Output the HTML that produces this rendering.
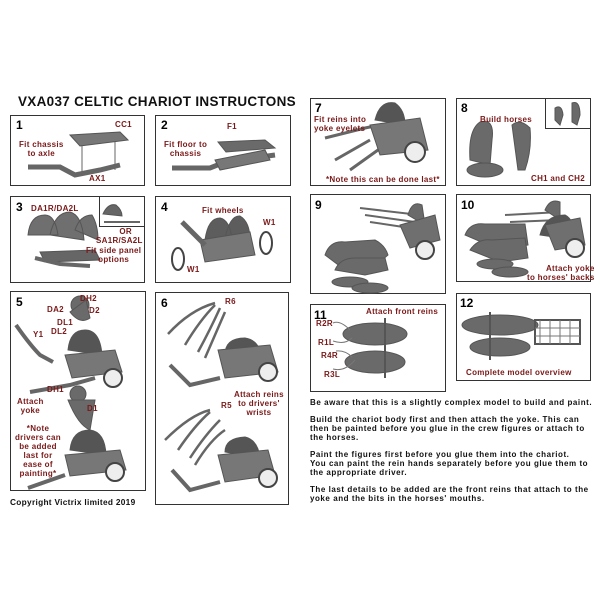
<!DOCTYPE html>
<html><head><meta charset="utf-8"><style>
body{margin:0;width:600px;height:600px;background:#fff;position:relative;overflow:hidden;font-family:"Liberation Sans","DejaVu Sans",sans-serif;font-weight:bold}
.b{position:absolute;border:1.5px solid #333;box-sizing:border-box;background:#fff}
.n{position:absolute;font-size:12px;color:#000;font-weight:bold}
.l{position:absolute;font-size:8px;color:#7a1818;font-weight:bold;text-align:center;line-height:9px;white-space:nowrap;letter-spacing:0.3px}
.t{position:absolute;left:310px;font-size:8px;letter-spacing:0.55px;color:#111;white-space:nowrap;line-height:9px}
svg{position:absolute;left:0;top:0}
</style></head><body>
<div style="position:absolute;left:18px;top:94px;font-size:13.5px;font-weight:bold;color:#111;letter-spacing:0.3px">VXA037 CELTIC CHARIOT INSTRUCTONS</div>

<div class="b" style="left:10px;top:115px;width:135px;height:71px"></div>
<div class="b" style="left:155px;top:115px;width:136px;height:71px"></div>
<div class="b" style="left:10px;top:196px;width:135px;height:87px"></div>
<div class="b" style="left:99px;top:196px;width:46px;height:31px"></div>
<div class="b" style="left:155px;top:196px;width:136px;height:87px"></div>
<div class="b" style="left:10px;top:291px;width:136px;height:200px"></div>
<div class="b" style="left:155px;top:292px;width:134px;height:213px"></div>
<div class="b" style="left:310px;top:98px;width:136px;height:88px"></div>
<div class="b" style="left:456px;top:98px;width:135px;height:88px"></div>
<div class="b" style="left:545px;top:98px;width:46px;height:31px"></div>
<div class="b" style="left:310px;top:194px;width:136px;height:100px"></div>
<div class="b" style="left:456px;top:194px;width:135px;height:88px"></div>
<div class="b" style="left:310px;top:304px;width:136px;height:88px"></div>
<div class="b" style="left:456px;top:293px;width:135px;height:88px"></div>

<svg width="600" height="600" fill="#6a6a6a" stroke="#555">
<!-- 1 -->
<polygon points="70,135 120,132 128,140 80,146" fill="#777"/>
<path d="M28,167 L60,167 L75,175 L100,170 L120,165" stroke="#666" stroke-width="5" fill="none"/>
<line x1="82" y1="146" x2="82" y2="172" stroke="#666"/><line x1="115" y1="142" x2="115" y2="170" stroke="#666"/>
<!-- 2 -->
<polygon points="218,142 265,140 275,148 226,152" fill="#6a6a6a"/>
<path d="M172,168 L210,168 L225,162 L275,155" stroke="#666" stroke-width="5" fill="none"/>
<polygon points="215,160 265,150 270,160 220,170" fill="#777"/>
<!-- 3 -->
<path d="M28,235 Q30,215 45,215 Q55,215 58,235 Z M50,235 Q55,212 70,212 Q82,215 84,240 Z M75,230 Q80,215 92,215 Q98,225 98,240 Z" fill="#6f6f6f"/>
<polygon points="40,252 95,250 100,260 45,262" fill="#666"/>
<path d="M35,258 L60,264 L90,266" stroke="#666" stroke-width="4" fill="none"/>
<path d="M103,214 Q108,203 116,205 Q122,210 122,216 Z" fill="#666"/><line x1="104" y1="222" x2="140" y2="222" stroke="#666" stroke-width="2"/>
<!-- 4 -->
<path d="M205,240 Q208,218 220,218 Q230,220 232,240 Z M225,238 Q230,215 240,216 Q250,222 250,240 Z" fill="#5d5d5d"/>
<polygon points="200,240 250,232 255,255 205,262" fill="#777"/>
<path d="M182,222 L205,245" stroke="#666" stroke-width="5"/>
<ellipse cx="178" cy="259" rx="6" ry="11" fill="none" stroke="#444" stroke-width="2"/>
<ellipse cx="266" cy="243" rx="6" ry="11" fill="none" stroke="#444" stroke-width="2"/>
<!-- 5 -->
<path d="M16,325 Q30,345 40,355 L53,362" stroke="#666" stroke-width="4" fill="none"/>
<path d="M68,350 Q70,330 85,330 Q100,330 102,355 Z" fill="#555"/>
<polygon points="65,355 115,350 122,372 72,378" fill="#777"/>
<path d="M30,392 L70,385 L95,378" stroke="#666" stroke-width="4" fill="none"/>
<circle cx="113" cy="378" r="9" fill="#eee" stroke="#444" stroke-width="2"/>
<circle cx="80" cy="305" r="9"/><path d="M70,312 Q80,325 90,318 L86,300 Z"/>
<circle cx="78" cy="394" r="8"/><path d="M68,400 Q78,425 90,430 L95,400 Z"/>
<path d="M70,450 Q72,430 90,430 Q105,432 106,455 Z" fill="#555"/>
<polygon points="65,455 120,450 126,470 70,476" fill="#777"/>
<path d="M28,488 L65,475" stroke="#666" stroke-width="4"/>
<circle cx="115" cy="472" r="9" fill="#eee" stroke="#444" stroke-width="2"/>
<!-- 6 -->
<path d="M168,334 Q190,310 215,303 M185,345 Q200,320 215,305 M198,352 Q210,330 220,308 M205,358 Q215,335 225,312" stroke="#666" stroke-width="2.5" fill="none"/>
<path d="M225,355 Q225,338 245,338 Q260,340 262,360 Z" fill="#555"/>
<polygon points="218,350 270,345 278,372 225,378" fill="#777"/>
<path d="M170,365 L190,385 L220,378" stroke="#666" stroke-width="4" fill="none"/>
<circle cx="268" cy="372" r="9" fill="#eee" stroke="#444" stroke-width="2"/>
<path d="M165,440 Q190,415 210,410 M178,450 Q195,425 210,412 M190,458 Q205,435 220,420 M195,465 Q210,440 225,430" stroke="#666" stroke-width="2.5" fill="none"/>
<path d="M225,452 Q225,438 245,437 Q258,440 260,458 Z" fill="#555"/>
<polygon points="218,455 268,450 275,475 225,482" fill="#777"/>
<path d="M172,470 L190,490 L220,482" stroke="#666" stroke-width="4" fill="none"/>
<circle cx="268" cy="478" r="9" fill="#eee" stroke="#444" stroke-width="2"/>
<!-- 7 -->
<path d="M325,138 L365,128 L380,125" stroke="#666" stroke-width="3" fill="none"/>
<path d="M335,160 L370,140 M350,170 L385,145" stroke="#666" stroke-width="3"/>
<path d="M375,120 Q380,100 395,103 Q405,110 405,125 Z" fill="#555"/>
<polygon points="370,125 420,118 428,150 380,155" fill="#777"/>
<circle cx="415" cy="152" r="10" fill="#eee" stroke="#444" stroke-width="2"/>
<!-- 8 -->
<path d="M470,160 Q468,130 480,122 Q495,118 492,140 L490,165 Z"/>
<ellipse cx="485" cy="170" rx="18" ry="7"/>
<path d="M512,125 Q520,118 530,128 Q532,150 525,170 L518,170 Z"/>
<path d="M555,108 Q562,104 563,115 L560,125 L555,120 Z M572,103 Q580,100 580,115 L577,125 L572,122 Z"/>
<!-- 9 -->
<path d="M360,208 L420,215 M365,215 L415,222 M370,222 L410,228" stroke="#666" stroke-width="2"/>
<path d="M408,215 Q412,200 422,205 L425,225 Z"/>
<polygon points="400,225 435,215 440,240 410,248" fill="#6f6f6f"/>
<circle cx="425" cy="250" r="9" fill="#eee" stroke="#444" stroke-width="2"/>
<path d="M325,255 Q330,240 345,242 L375,240 Q385,245 388,255 L380,262 L360,262 L345,270 Z"/>
<path d="M335,270 Q340,258 355,258 L385,258 L388,270 L365,275 Z"/>
<ellipse cx="350" cy="282" rx="18" ry="5"/><ellipse cx="370" cy="288" rx="18" ry="5"/>
<!-- 10 -->
<path d="M505,215 L560,212 M510,222 L560,220" stroke="#666" stroke-width="2"/>
<path d="M545,210 Q550,198 560,202 L560,220 Z"/>
<path d="M540,235 Q545,215 565,215 Q575,220 575,240 Z" fill="#555"/>
<polygon points="545,225 580,218 585,245 555,250" fill="#6f6f6f"/>
<circle cx="575" cy="248" r="9" fill="#eee" stroke="#444" stroke-width="2"/>
<path d="M465,235 Q470,222 485,224 L525,224 L528,245 L500,250 Z"/>
<path d="M470,250 Q478,238 492,240 L525,238 L528,258 L500,262 Z"/>
<ellipse cx="495" cy="264" rx="18" ry="5"/><ellipse cx="510" cy="272" rx="18" ry="5"/>
<!-- 11 -->
<ellipse cx="375" cy="334" rx="32" ry="11"/>
<ellipse cx="375" cy="362" rx="30" ry="11"/>
<line x1="385" y1="318" x2="385" y2="378" stroke="#555" stroke-width="2"/>
<path d="M333,323 Q340,320 350,330 M333,341 Q345,345 352,338 M336,351 Q345,350 352,357 M333,369 Q345,372 355,360" stroke="#777" fill="none"/>
<!-- 12 -->
<ellipse cx="500" cy="325" rx="38" ry="10"/>
<ellipse cx="500" cy="347" rx="30" ry="9"/>
<line x1="490" y1="312" x2="490" y2="360" stroke="#555" stroke-width="2"/>
<rect x="535" y="320" width="45" height="24" fill="none" stroke="#555" stroke-width="2"/>
<path d="M540,320 V344 M550,320 V344 M560,320 V344 M570,320 V344 M535,328 H580 M535,336 H580" stroke="#777"/>
</svg>

<div class="n" style="left:16px;top:118px">1</div>
<div class="n" style="left:161px;top:118px">2</div>
<div class="n" style="left:16px;top:200px">3</div>
<div class="n" style="left:161px;top:200px">4</div>
<div class="n" style="left:16px;top:295px">5</div>
<div class="n" style="left:161px;top:296px">6</div>
<div class="n" style="left:315px;top:101px">7</div>
<div class="n" style="left:461px;top:101px">8</div>
<div class="n" style="left:315px;top:198px">9</div>
<div class="n" style="left:461px;top:198px">10</div>
<div class="n" style="left:314px;top:308px">11</div>
<div class="n" style="left:460px;top:296px">12</div>

<div class="l" style="left:115px;top:120px">CC1</div>
<div class="l" style="left:19px;top:140px">Fit chassis<br>to axle</div>
<div class="l" style="left:89px;top:174px">AX1</div>
<div class="l" style="left:227px;top:122px">F1</div>
<div class="l" style="left:164px;top:140px">Fit floor to<br>chassis</div>
<div class="l" style="left:31px;top:204px">DA1R/DA2L</div>
<div class="l" style="left:96px;top:227px">&nbsp;&nbsp;&nbsp;&nbsp;&nbsp;OR<br>SA1R/SA2L</div>
<div class="l" style="left:86px;top:246px">Fit side panel<br>options</div>
<div class="l" style="left:202px;top:206px">Fit wheels</div>
<div class="l" style="left:263px;top:218px">W1</div>
<div class="l" style="left:187px;top:265px">W1</div>
<div class="l" style="left:80px;top:294px">DH2</div>
<div class="l" style="left:47px;top:305px">DA2</div>
<div class="l" style="left:89px;top:306px">D2</div>
<div class="l" style="left:57px;top:318px">DL1</div>
<div class="l" style="left:51px;top:327px">DL2</div>
<div class="l" style="left:33px;top:330px">Y1</div>
<div class="l" style="left:47px;top:385px">DH1</div>
<div class="l" style="left:87px;top:404px">D1</div>
<div class="l" style="left:17px;top:397px">Attach<br>yoke</div>
<div class="l" style="left:15px;top:424px">*Note<br>drivers can<br>be added<br>last for<br>ease of<br>painting*</div>
<div class="l" style="left:225px;top:297px">R6</div>
<div class="l" style="left:234px;top:390px">Attach reins<br>to drivers'<br>wrists</div>
<div class="l" style="left:221px;top:401px">R5</div>
<div class="l" style="left:314px;top:115px;text-align:left">Fit reins into<br>yoke eyelets</div>
<div class="l" style="left:326px;top:175px">*Note this can be done last*</div>
<div class="l" style="left:480px;top:115px">Build horses</div>
<div class="l" style="left:531px;top:174px">CH1 and CH2</div>
<div class="l" style="left:527px;top:264px;text-align:right">Attach yoke<br>to horses' backs</div>
<div class="l" style="left:366px;top:307px">Attach front reins</div>
<div class="l" style="left:316px;top:319px">R2R</div>
<div class="l" style="left:318px;top:338px">R1L</div>
<div class="l" style="left:321px;top:351px">R4R</div>
<div class="l" style="left:324px;top:370px">R3L</div>
<div class="l" style="left:466px;top:368px">Complete model overview</div>

<div style="position:absolute;left:10px;top:497px;font-size:8.3px;letter-spacing:0.3px;color:#111">Copyright Victrix limited 2019</div>

<div class="t" style="top:398px">Be aware that this is a slightly complex model to build and paint.</div>
<div class="t" style="top:415px">Build the chariot body first and then attach the yoke. This can<br>then be painted before you glue in the crew figures or attach to<br>the horses.</div>
<div class="t" style="top:450px">Paint the figures first before you glue them into the chariot.<br>You can paint the rein hands separately before you glue them to<br>the appropriate driver.</div>
<div class="t" style="top:485px">The last details to be added are the front reins that attach to the<br>yoke and the bits in the horses' mouths.</div>
</body></html>
